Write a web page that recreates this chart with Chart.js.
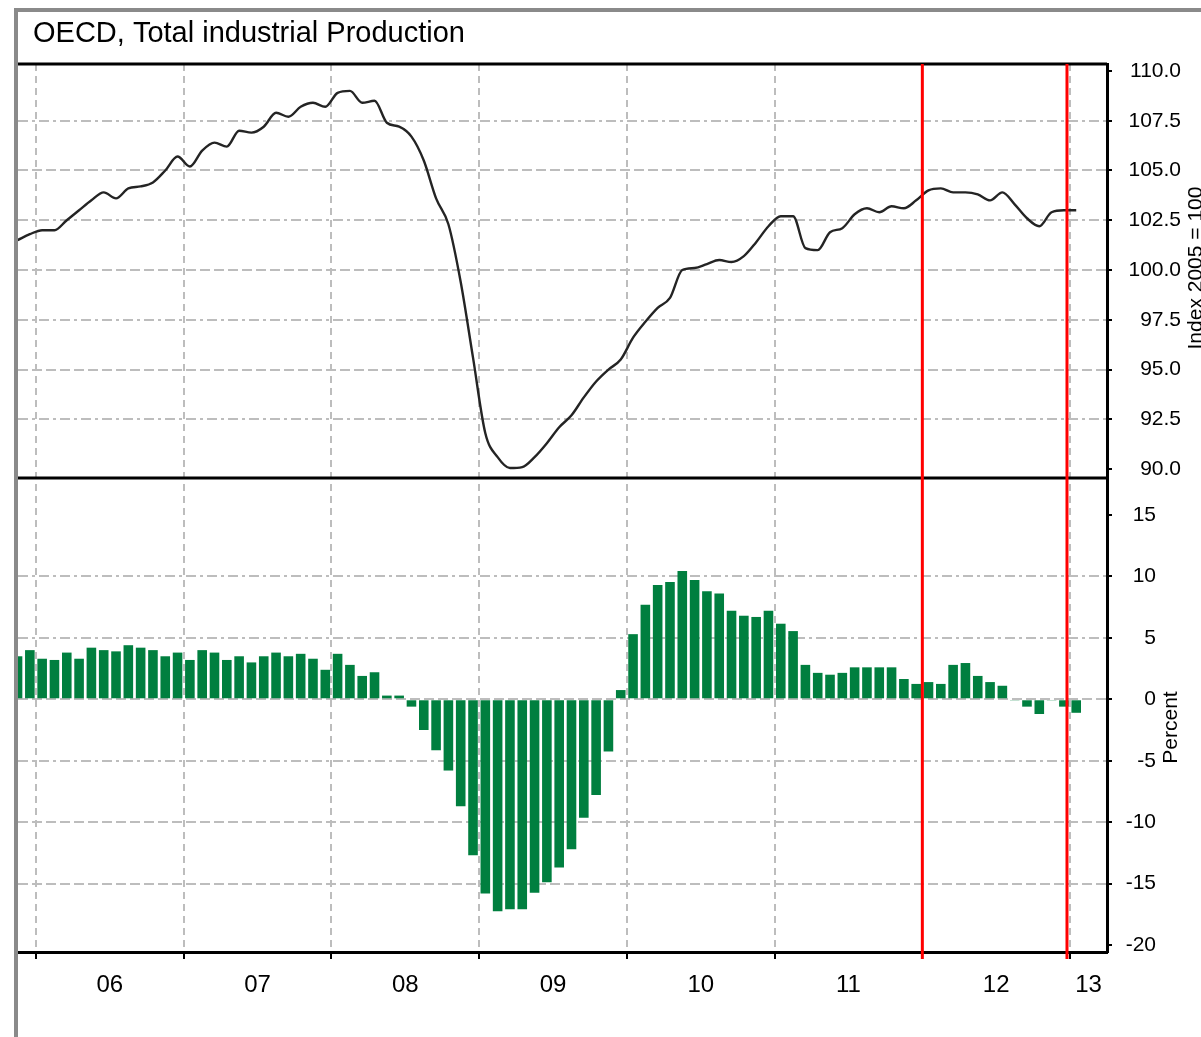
<!DOCTYPE html>
<html>
<head>
<meta charset="utf-8">
<title>OECD, Total industrial Production</title>
<script src="https://cdn.jsdelivr.net/npm/chart.js"></script>
<style>
  html, body { margin: 0; padding: 0; background: #ffffff; }
  #wrap { position: relative; width: 1201px; height: 1037px; overflow: hidden; background: #fff; }
  #c { position: absolute; left: 0; top: 0; }
  #frame { position: absolute; left: 14px; top: 8px; width: 1400px; height: 1200px;
           border-left: 4px solid #8a8a8a; border-top: 4px solid #8a8a8a;
           box-sizing: border-box; pointer-events: none; }
</style>
</head>
<body>
<div id="wrap">
  <canvas id="c" width="1201" height="1037"></canvas>
  <div id="frame"></div>
</div>
<script>
// ---------------- data (monthly, first month = Nov 2005) ----------------
const titleText = 'OECD, Total industrial Production';
const leftTitle = 'Index 2005 = 100';
const rightTitle = 'Percent';
const firstYear = 2005, firstMonth = 11;

// Total industrial production index (2005 = 100)
const indexValues = [
  101.5, 101.8,
  102.0, 102.0, 102.5, 103.0, 103.5, 103.9, 103.6, 104.1, 104.2, 104.4, 105.0, 105.7,
  105.2, 106.0, 106.4, 106.2, 107.0, 106.9, 107.2, 107.9, 107.7, 108.2, 108.4, 108.2,
  108.9, 109.0, 108.4, 108.5, 107.4, 107.2, 106.7, 105.5, 103.6, 102.3, 99.4, 95.6,
  91.8, 90.6, 90.05, 90.1, 90.6, 91.3, 92.1, 92.7, 93.6, 94.4, 95.0, 95.5,
  96.6, 97.4, 98.1, 98.6, 100.0, 100.1, 100.3, 100.5, 100.4, 100.7, 101.4, 102.2,
  102.7, 102.7, 101.1, 101.0, 101.9, 102.1, 102.8, 103.1, 102.9, 103.2, 103.1, 103.5,
  104.0, 104.1, 103.9, 103.9, 103.8, 103.5, 103.9, 103.3, 102.6, 102.2, 102.9, 103.0,
  103.0
];

// Year-on-year change, percent
const changeValues = [
  3.5, 4.0,
  3.3, 3.2, 3.8, 3.3, 4.2, 4.0, 3.9, 4.4, 4.2, 4.0, 3.5, 3.8,
  3.2, 4.0, 3.8, 3.2, 3.5, 3.0, 3.5, 3.8, 3.5, 3.7, 3.3, 2.4,
  3.7, 2.8, 1.9, 2.2, 0.3, 0.3, -0.6, -2.5, -4.15, -5.8, -8.7, -12.7,
  -15.8, -17.25, -17.1, -17.1, -15.75, -14.9, -13.7, -12.2, -9.65, -7.8, -4.25, 0.75,
  5.3, 7.7, 9.3, 9.55, 10.45, 9.7, 8.8, 8.6, 7.2, 6.8, 6.7, 7.2,
  6.15, 5.55, 2.8, 2.15, 2.0, 2.15, 2.6, 2.6, 2.6, 2.6, 1.65, 1.25,
  1.4, 1.25, 2.8, 2.95, 1.9, 1.4, 1.1, -0.1, -0.6, -1.2, -0.1, -0.6,
  -1.1
];

const yearLabels = ['06', '07', '08', '09', '10', '11', '12', '13'];
const indexTicks = [90.0, 92.5, 95.0, 97.5, 100.0, 102.5, 105.0, 107.5, 110.0];
const changeTicks = [-20, -15, -10, -5, 0, 5, 10, 15];
// red marker lines, in months counted from Jan 2006
const markerMonths = [72, 83.75];

// ---------------- helpers ----------------
const monthOffset = (firstYear - 2006) * 12 + (firstMonth - 1); // months from Jan 2006
const xOf = i => monthOffset + i + 0.5;  // centre of month i
const linePoints = indexValues.map((v, i) => ({ x: xOf(i), y: v }));
const barPoints = changeValues.map((v, i) => ({ x: xOf(i), y: v }));
const X_MIN = -1.462, X_MAX = 87.0;
const yearStarts = yearLabels.map((_, k) => k * 12);
const yearMids = yearStarts.map(s => Math.min(s + 6, (s + X_MAX) / 2));

const FONT = "'Liberation Sans', Arial, sans-serif";
Chart.defaults.font.family = FONT;
Chart.defaults.color = '#000';

const GRID = '#bdbdbd';
const dashed = [10, 4];
const dashDot = [10, 4, 3, 4];

const fitRight = s => { s.width = 94; s.paddingTop = 0; s.paddingBottom = 0; };

const overlay = {
  id: 'overlay',
  afterDraw(chart) {
    const { ctx, chartArea: a, scales } = chart;
    ctx.save();
    // panel frame lines
    ctx.strokeStyle = '#000';
    ctx.lineWidth = 3;
    [scales.y1.top, scales.y2.top].forEach(y => {
      ctx.beginPath(); ctx.moveTo(a.left, y); ctx.lineTo(a.right, y); ctx.stroke();
    });
    // red marker lines
    ctx.strokeStyle = '#ff0000';
    ctx.lineWidth = 3;
    markerMonths.forEach(m => {
      const x = scales.x.getPixelForValue(m);
      ctx.beginPath(); ctx.moveTo(x, a.top); ctx.lineTo(x, a.bottom + 7); ctx.stroke();
    });
    // title
    ctx.fillStyle = '#000';
    ctx.font = '29px ' + FONT;
    ctx.textAlign = 'left';
    ctx.textBaseline = 'alphabetic';
    ctx.fillText(titleText, 33, 42);
    // rotated axis titles
    ctx.font = '21px ' + FONT;
    ctx.textAlign = 'center';
    ctx.textBaseline = 'middle';
    const rot = (txt, x, y) => {
      ctx.save(); ctx.translate(x, y); ctx.rotate(-Math.PI / 2); ctx.fillText(txt, 0, 0); ctx.restore();
    };
    rot(leftTitle, 1196, scales.y1.getPixelForValue(100.1));
    rot(rightTitle, 1171, scales.y2.getPixelForValue(-2.3));
    ctx.restore();
  }
};

new Chart(document.getElementById('c'), {
  type: 'bar',
  data: {
    datasets: [
      {
        type: 'line',
        data: linePoints,
        xAxisID: 'x',
        yAxisID: 'y1',
        borderColor: '#242424',
        borderWidth: 2.4,
        pointRadius: 0,
        cubicInterpolationMode: 'monotone',
        fill: false
      },
      {
        type: 'bar',
        data: barPoints,
        xAxisID: 'x',
        yAxisID: 'y2',
        backgroundColor: '#007f3f',
        borderWidth: 0,
        categoryPercentage: 1.0,
        barPercentage: 0.78
      }
    ]
  },
  options: {
    responsive: false,
    animation: false,
    events: [],
    layout: { padding: { left: 18, top: 64, right: 0, bottom: 0 } },
    plugins: { legend: { display: false }, tooltip: { enabled: false }, title: { display: false } },
    scales: {
      x: {
        type: 'linear',
        position: 'bottom',
        min: X_MIN, max: X_MAX,
        offset: false,
        weight: 0,
        afterBuildTicks: s => { s.ticks = yearStarts.map(v => ({ value: v })); },
        afterFit: s => { s.height = 7; s.paddingLeft = 0; s.paddingRight = 0; },
        ticks: { display: false },
        grid: { offset: false, color: GRID, lineWidth: 2, tickColor: '#000', tickWidth: 2, tickLength: 7 },
        border: { display: true, color: '#000', width: 3, dash: [7, 5] }
      },
      x2: {
        type: 'linear',
        position: 'bottom',
        min: X_MIN, max: X_MAX,
        offset: false,
        weight: 1,
        afterBuildTicks: s => { s.ticks = yearMids.map(v => ({ value: v })); },
        afterFit: s => { s.height = 78; s.paddingLeft = 0; s.paddingRight = 0; },
        ticks: {
          autoSkip: false, maxRotation: 0, padding: 12,
          font: { size: 24 },
          callback: (v, i) => yearLabels[i]
        },
        grid: { display: false, drawTicks: false, offset: false },
        border: { display: false }
      },
      y1: {
        type: 'linear',
        position: 'right',
        stack: 'panels',
        stackWeight: 414,
        min: 89.55, max: 110.35,
        afterBuildTicks: s => { s.ticks = indexTicks.map(v => ({ value: v })); },
        afterFit: fitRight,
        ticks: {
          mirror: true, crossAlign: 'near', padding: 74, font: { size: 21 },
          callback: v => Number(v).toFixed(1)
        },
        grid: {
          color: c => (c.tick && (c.tick.value === 110 || c.tick.value === 90)) ? 'rgba(0,0,0,0)' : GRID,
          lineWidth: 2, tickColor: '#000', tickWidth: 2, tickLength: 5
        },
        border: {
          display: true, color: '#000', width: 3,
          dash: c => (c.tick ? (Math.round(c.tick.value * 10) % 50 === 0 ? dashed : dashDot) : [])
        }
      },
      y2: {
        type: 'linear',
        position: 'right',
        stack: 'panels',
        stackWeight: 474,
        min: -20.57, max: 18.01,
        afterBuildTicks: s => { s.ticks = changeTicks.map(v => ({ value: v })); },
        afterFit: fitRight,
        ticks: {
          mirror: true, crossAlign: 'near', padding: 49, font: { size: 21 },
          callback: v => String(v)
        },
        grid: {
          color: c => (c.tick && (c.tick.value === 15 || c.tick.value === -20)) ? 'rgba(0,0,0,0)' : GRID,
          lineWidth: 2, tickColor: '#000', tickWidth: 2, tickLength: 5
        },
        border: {
          display: true, color: '#000', width: 3,
          dash: c => (c.tick ? ([10, 5, -5].includes(c.tick.value) ? dashDot : dashed) : [])
        }
      }
    }
  },
  plugins: [overlay]
});
</script>
</body>
</html>
